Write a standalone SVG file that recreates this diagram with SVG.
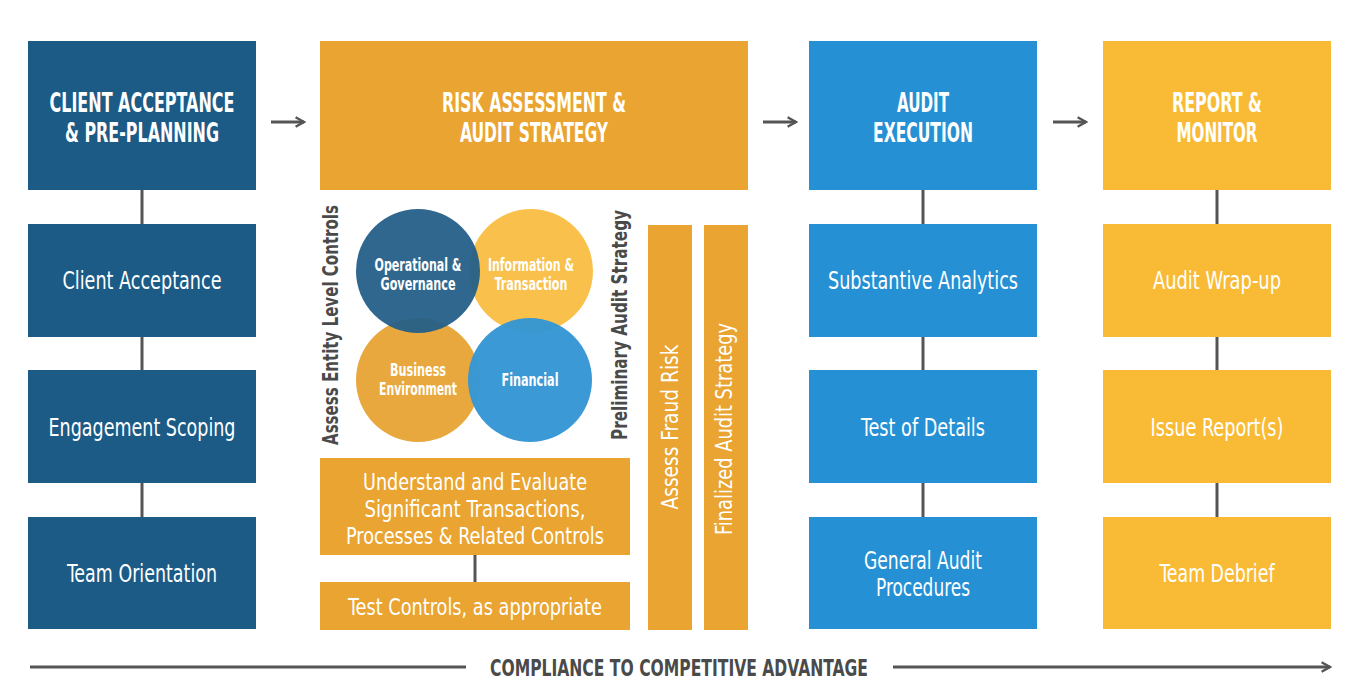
<svg xmlns="http://www.w3.org/2000/svg" width="1359" height="691" viewBox="0 0 1359 691">
<defs>
<style>
.t{font-family:"DejaVu Sans","Liberation Sans",sans-serif;font-stretch:condensed;fill:#fff;text-anchor:middle}
.h{font-size:26px;font-weight:bold}
.b{font-size:24px}
.m{font-size:23px}
.c{font-size:17px;font-weight:bold}
.g{fill:#4a4a4a;font-weight:bold}
.navy{fill:#1b5b86}
.org{fill:#e9a431}
.blu{fill:#2590d3}
.yel{fill:#f9bb36}
.conn line{stroke:#555;stroke-width:3}
</style>
<marker id="ah" viewBox="0 0 10 10" refX="8" refY="5" markerWidth="4" markerHeight="4" orient="auto" markerUnits="strokeWidth">
<path d="M1,1 L8,5 L1,9" fill="none" stroke="#555" stroke-width="2"/>
</marker>
</defs>
<rect width="1359" height="691" fill="#fff"/>
<g class="conn">
<line x1="142" y1="190" x2="142" y2="224"/>
<line x1="142" y1="337" x2="142" y2="370"/>
<line x1="142" y1="483" x2="142" y2="517"/>
<line x1="475" y1="555" x2="475" y2="582"/>
<line x1="923" y1="190" x2="923" y2="224"/>
<line x1="923" y1="337" x2="923" y2="370"/>
<line x1="923" y1="483" x2="923" y2="517"/>
<line x1="1217" y1="190" x2="1217" y2="224"/>
<line x1="1217" y1="337" x2="1217" y2="370"/>
<line x1="1217" y1="483" x2="1217" y2="517"/>
<line x1="271" y1="122" x2="304" y2="122" marker-end="url(#ah)"/>
<line x1="763" y1="122" x2="796" y2="122" marker-end="url(#ah)"/>
<line x1="1053" y1="122" x2="1086" y2="122" marker-end="url(#ah)"/>
<line x1="30" y1="667" x2="466" y2="667"/>
<line x1="893" y1="667" x2="1330" y2="667" marker-end="url(#ah)"/>
</g>
<g id="n-client-pre"><rect class="navy" x="28" y="41" width="228" height="149"/><text class="t h" x="142" y="112" textLength="185" lengthAdjust="spacingAndGlyphs">CLIENT ACCEPTANCE</text><text class="t h" x="142" y="142" textLength="154" lengthAdjust="spacingAndGlyphs">&amp; PRE-PLANNING</text></g>
<g id="n-client-acc"><rect class="navy" x="28" y="224" width="228" height="113"/><text class="t b" x="142" y="289" textLength="159" lengthAdjust="spacingAndGlyphs">Client Acceptance</text></g>
<g id="n-scoping"><rect class="navy" x="28" y="370" width="228" height="113"/><text class="t b" x="142" y="436" textLength="187" lengthAdjust="spacingAndGlyphs">Engagement Scoping</text></g>
<g id="n-orient"><rect class="navy" x="28" y="517" width="228" height="112"/><text class="t b" x="142" y="582" textLength="150" lengthAdjust="spacingAndGlyphs">Team Orientation</text></g>
<g id="n-risk"><rect class="org" x="320" y="41" width="428" height="149"/><text class="t h" x="534" y="112" textLength="184" lengthAdjust="spacingAndGlyphs">RISK ASSESSMENT &amp;</text><text class="t h" x="534" y="142" textLength="148" lengthAdjust="spacingAndGlyphs">AUDIT STRATEGY</text></g>
<g id="n-entity">
<circle cx="418" cy="380" r="62" fill="#e9a83e"/>
<circle cx="531" cy="271" r="62" fill="#f9c14b"/>
<circle cx="418" cy="271" r="62" fill="#255f88" fill-opacity="0.95"/>
<circle cx="530" cy="380" r="62" fill="#3597d4" fill-opacity="0.97"/>
<text class="t c" x="418" y="271" textLength="87" lengthAdjust="spacingAndGlyphs">Operational &amp;</text><text class="t c" x="418" y="290" textLength="75" lengthAdjust="spacingAndGlyphs">Governance</text>
<text class="t c" x="531" y="271" textLength="86" lengthAdjust="spacingAndGlyphs">Information &amp;</text><text class="t c" x="531" y="290" textLength="73" lengthAdjust="spacingAndGlyphs">Transaction</text>
<text class="t c" x="418" y="376" textLength="56" lengthAdjust="spacingAndGlyphs">Business</text><text class="t c" x="418" y="395" textLength="78" lengthAdjust="spacingAndGlyphs">Environment</text>
<text class="t c" x="530" y="386" textLength="57" lengthAdjust="spacingAndGlyphs">Financial</text>
<text class="t g" font-size="21" transform="translate(338,325) rotate(-90)" textLength="240" lengthAdjust="spacingAndGlyphs">Assess Entity Level Controls</text>
<text class="t g" font-size="21" transform="translate(627,325) rotate(-90)" textLength="230" lengthAdjust="spacingAndGlyphs">Preliminary Audit Strategy</text>
</g>
<g id="n-fraud"><rect class="org" x="648" y="225" width="44" height="405"/><text class="t m" transform="translate(678,427) rotate(-90)" textLength="165" lengthAdjust="spacingAndGlyphs">Assess Fraud Risk</text></g>
<g id="n-final"><rect class="org" x="704" y="225" width="44" height="405"/><text class="t m" transform="translate(732,429) rotate(-90)" textLength="212" lengthAdjust="spacingAndGlyphs">Finalized Audit Strategy</text></g>
<g id="n-understand"><rect class="org" x="320" y="458" width="310" height="97"/><text class="t m" x="475" y="490" textLength="224" lengthAdjust="spacingAndGlyphs">Understand and Evaluate</text><text class="t m" x="475" y="517" textLength="221" lengthAdjust="spacingAndGlyphs">Significant Transactions,</text><text class="t m" x="475" y="544" textLength="258" lengthAdjust="spacingAndGlyphs">Processes &amp; Related Controls</text></g>
<g id="n-testctl"><rect class="org" x="320" y="582" width="310" height="48"/><text class="t m" x="475" y="615" textLength="254" lengthAdjust="spacingAndGlyphs">Test Controls, as appropriate</text></g>
<g id="n-exec"><rect class="blu" x="809" y="41" width="228" height="149"/><text class="t h" x="923" y="112" textLength="52" lengthAdjust="spacingAndGlyphs">AUDIT</text><text class="t h" x="923" y="142" textLength="100" lengthAdjust="spacingAndGlyphs">EXECUTION</text></g>
<g id="n-subst"><rect class="blu" x="809" y="224" width="228" height="113"/><text class="t b" x="923" y="289" textLength="190" lengthAdjust="spacingAndGlyphs">Substantive Analytics</text></g>
<g id="n-details"><rect class="blu" x="809" y="370" width="228" height="113"/><text class="t b" x="923" y="436" textLength="124" lengthAdjust="spacingAndGlyphs">Test of Details</text></g>
<g id="n-general"><rect class="blu" x="809" y="517" width="228" height="112"/><text class="t b" x="923" y="569" textLength="118" lengthAdjust="spacingAndGlyphs">General Audit</text><text class="t b" x="923" y="596" textLength="94" lengthAdjust="spacingAndGlyphs">Procedures</text></g>
<g id="n-report"><rect class="yel" x="1103" y="41" width="228" height="149"/><text class="t h" x="1217" y="112" textLength="90" lengthAdjust="spacingAndGlyphs">REPORT &amp;</text><text class="t h" x="1217" y="142" textLength="81" lengthAdjust="spacingAndGlyphs">MONITOR</text></g>
<g id="n-wrap"><rect class="yel" x="1103" y="224" width="228" height="113"/><text class="t b" x="1217" y="289" textLength="128" lengthAdjust="spacingAndGlyphs">Audit Wrap-up</text></g>
<g id="n-issue"><rect class="yel" x="1103" y="370" width="228" height="113"/><text class="t b" x="1217" y="436" textLength="133" lengthAdjust="spacingAndGlyphs">Issue Report(s)</text></g>
<g id="n-debrief"><rect class="yel" x="1103" y="517" width="228" height="112"/><text class="t b" x="1217" y="582" textLength="115" lengthAdjust="spacingAndGlyphs">Team Debrief</text></g>
<text class="t g" font-size="23" x="679" y="676" textLength="378" lengthAdjust="spacingAndGlyphs">COMPLIANCE TO COMPETITIVE ADVANTAGE</text>
</svg>
